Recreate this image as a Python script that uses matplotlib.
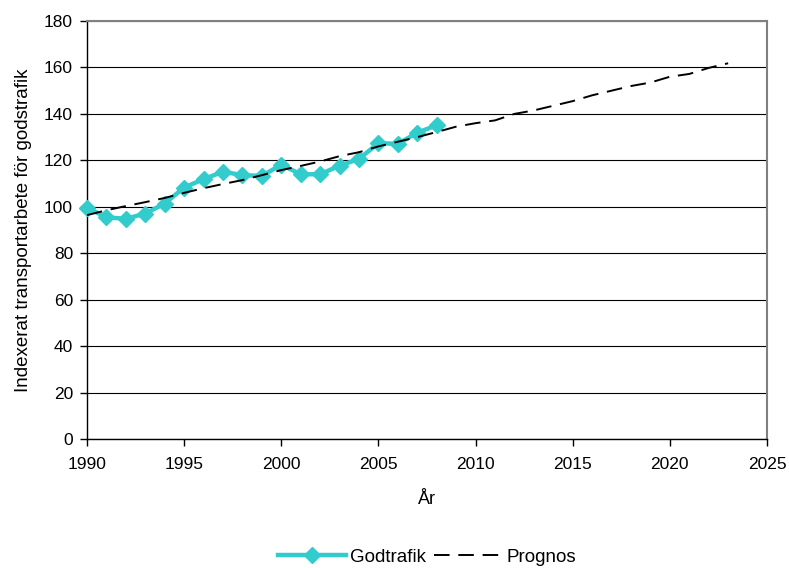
import matplotlib
matplotlib.use("Agg")
import matplotlib.pyplot as plt
from matplotlib.lines import Line2D

plt.rcParams['font.family'] = ['Liberation Sans', 'DejaVu Sans']

# Godtrafik, observed index 1990-2008
years_obs = list(range(1990, 2009))
godtrafik = [99.6, 95.5, 94.8, 97.1, 101.4, 108.3, 111.9, 115.1, 113.6, 113.3,
             118.1, 114.0, 114.0, 117.7, 120.6, 127.4, 127.1, 131.9, 135.1]

# Prognos, forecast index 1990-2023
years_prog = list(range(1990, 2024))
prognos = [96.4, 98.5, 100.3, 102.0, 103.8, 106.0, 108.0, 109.8, 111.5, 113.6,
           115.8, 117.6, 119.5, 121.8, 123.5, 126.0, 128.0, 130.0, 132.2, 134.5,
           136.0, 137.2, 140.0, 141.5, 143.5, 145.5, 148.0, 150.0, 152.0, 153.5,
           156.0, 157.2, 159.8, 161.8]

x_ticks = [1990, 1995, 2000, 2005, 2010, 2015, 2020, 2025]
y_ticks = [0, 20, 40, 60, 80, 100, 120, 140, 160, 180]

TURQ = '#33CCCC'
DASH = (8, 4.5)

fig = plt.figure(figsize=(7.89, 5.68), dpi=100)
ax = fig.add_axes([87/789, 1 - 439/568, 680/789, 418/568])

ax.plot(years_obs, godtrafik, color=TURQ, lw=3.2, marker='D', ms=8,
        mec=TURQ, mfc=TURQ, zorder=3, clip_on=False, label='Godtrafik')
ax.plot(years_prog, prognos, color='black', lw=1.4, dashes=DASH,
        zorder=4, label='Prognos')

ax.set_xlim(1990, 2025)
ax.set_ylim(0, 180)
ax.set_xticks(x_ticks)
ax.set_yticks(y_ticks)
ax.yaxis.grid(True, color='black', lw=0.8)
ax.set_axisbelow(True)

for s in ('left', 'bottom'):
    ax.spines[s].set_color('black')
    ax.spines[s].set_linewidth(1.0)
for s in ('top', 'right'):
    ax.spines[s].set_color('#808080')
    ax.spines[s].set_linewidth(1.5)

ax.tick_params(axis='both', direction='out', length=5, width=1, labelsize=12.5,
               colors='black')
ax.tick_params(axis='x', pad=8)
ax.tick_params(axis='y', pad=5)

ax.set_xlabel('År', fontsize=13, labelpad=14)
ax.set_ylabel('Indexerat transportarbete för godstrafik', fontsize=13.5,
              labelpad=9)

handles = [
    Line2D([], [], color=TURQ, lw=3.2, marker='D', ms=8),
    Line2D([], [], color='black', lw=1.4, dashes=DASH),
]
fig.legend(handles, ['Godtrafik', 'Prognos'], loc='center',
           bbox_to_anchor=(427/789, 1 - 557/568), ncol=2, frameon=False,
           fontsize=13.5, handlelength=3.6, handletextpad=0.25,
           columnspacing=0.4)

fig.savefig('out.png', dpi=100)
